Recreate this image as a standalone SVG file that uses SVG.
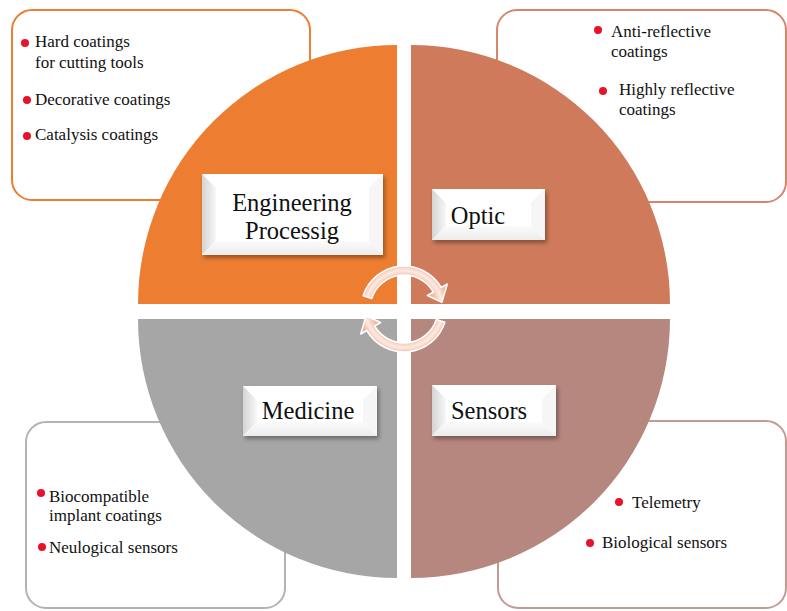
<svg xmlns="http://www.w3.org/2000/svg" width="787" height="611" viewBox="0 0 787 611">
  <defs>
    <style>
      .item { font-size: 17px; }
      .label { font-size: 24.5px; text-anchor: middle; }
      .dot { fill: #E8132B; }
      .frame { fill: #fff; stroke-width: 2; }
      .plate { fill: #fff; }
    </style>
    <filter id="shadow" x="-20%" y="-20%" width="140%" height="150%">
      <feDropShadow dx="2" dy="3" stdDeviation="2" flood-color="#000" flood-opacity="0.35"/>
    </filter>
    <linearGradient id="bevelL" x1="0" y1="0" x2="1" y2="0">
      <stop offset="0" stop-color="#d4d4d4"/>
      <stop offset="1" stop-color="#f7f7f7"/>
    </linearGradient>
    <linearGradient id="bevelB" x1="0" y1="0" x2="0" y2="1">
      <stop offset="0" stop-color="#fbfbfb"/>
      <stop offset="1" stop-color="#ececec"/>
    </linearGradient>
    <radialGradient id="ring" gradientUnits="userSpaceOnUse" cx="404" cy="309" r="50">
      <stop offset="0.62" stop-color="#F0B49C"/>
      <stop offset="0.77" stop-color="#FDEAE1"/>
      <stop offset="0.9" stop-color="#F0B49C"/>
    </radialGradient>
  </defs>

  <rect width="787" height="611" fill="#fff"/>

  <!-- outer rounded frames listing applications (behind the disc) -->
  <g id="frames">
    <rect class="frame" x="12" y="10" width="298" height="190" rx="20" stroke="#ED7D31"/>
    <rect class="frame" x="497" y="10" width="289" height="192" rx="20" stroke="#D4876A"/>
    <rect class="frame" x="26" y="422" width="259" height="186" rx="20" stroke="#B3B3B3"/>
    <rect class="frame" x="498" y="421" width="288" height="187" rx="20" stroke="#C29C94"/>
  </g>

  <g font-family="'Liberation Serif', 'DejaVu Serif', serif" fill="#111">
  <!-- Engineering quadrant -->
  <g id="engineering">
    <path d="M397,304 L138,304 A259,259 0 0 1 397,45 Z" fill="#ED7D31"/>
    <g filter="url(#shadow)">
      <rect class="plate" x="202" y="174" width="181" height="81"/>
    </g>
    <polygon points="202,174 216,188 216,241 202,255" fill="url(#bevelL)"/>
    <polygon points="202,255 216,241 369,241 383,255" fill="url(#bevelB)"/>
    <polygon points="383,174 369,188 369,241 383,255" fill="#f6f6f6"/>
    <text class="label" x="292" y="211">Engineering</text>
    <text class="label" x="292" y="239">Processig</text>
    <circle class="dot" cx="25" cy="43" r="4"/>
    <text class="item" x="35" y="47">Hard coatings</text>
    <text class="item" x="35" y="68">for cutting tools</text>
    <circle class="dot" cx="27" cy="100" r="4"/>
    <text class="item" x="35" y="105">Decorative coatings</text>
    <circle class="dot" cx="27" cy="136" r="4"/>
    <text class="item" x="35" y="140">Catalysis coatings</text>
  </g>

  <!-- Optic quadrant -->
  <g id="optic">
    <path d="M411,304 L411,45 A259,259 0 0 1 670,304 Z" fill="#CF7A5B"/>
    <g filter="url(#shadow)">
      <rect class="plate" x="432" y="189" width="113" height="51"/>
    </g>
    <polygon points="432,189 446,203 446,226 432,240" fill="url(#bevelL)"/>
    <polygon points="432,240 446,226 531,226 545,240" fill="url(#bevelB)"/>
    <polygon points="545,189 531,203 531,226 545,240" fill="#f6f6f6"/>
    <text class="label" x="478" y="224">Optic</text>
    <circle class="dot" cx="598" cy="30" r="4"/>
    <text class="item" x="611" y="37">Anti-reflective</text>
    <text class="item" x="611" y="57">coatings</text>
    <circle class="dot" cx="603" cy="91" r="4"/>
    <text class="item" x="619" y="95">Highly reflective</text>
    <text class="item" x="619" y="115">coatings</text>
  </g>

  <!-- Medicine quadrant -->
  <g id="medicine">
    <path d="M397,319 L397,578 A259,259 0 0 1 138,319 Z" fill="#A6A6A6"/>
    <g filter="url(#shadow)">
      <rect class="plate" x="243" y="386" width="134" height="50"/>
    </g>
    <polygon points="243,386 257,400 257,422 243,436" fill="url(#bevelL)"/>
    <polygon points="243,436 257,422 363,422 377,436" fill="url(#bevelB)"/>
    <polygon points="377,386 363,400 363,422 377,436" fill="#f6f6f6"/>
    <text class="label" x="308" y="419">Medicine</text>
    <circle class="dot" cx="41" cy="493" r="4"/>
    <text class="item" x="49" y="502">Biocompatible</text>
    <text class="item" x="49" y="521">implant coatings</text>
    <circle class="dot" cx="42" cy="547" r="4"/>
    <text class="item" x="49" y="553">Neulogical sensors</text>
  </g>

  <!-- Sensors quadrant -->
  <g id="sensors">
    <path d="M411,319 L670,319 A259,259 0 0 1 411,578 Z" fill="#B6877F"/>
    <g filter="url(#shadow)">
      <rect class="plate" x="432" y="385" width="124" height="51"/>
    </g>
    <polygon points="432,385 446,399 446,422 432,436" fill="url(#bevelL)"/>
    <polygon points="432,436 446,422 542,422 556,436" fill="url(#bevelB)"/>
    <polygon points="556,385 542,399 542,422 556,436" fill="#f6f6f6"/>
    <text class="label" x="489" y="419">Sensors</text>
    <circle class="dot" cx="619" cy="502" r="4"/>
    <text class="item" x="632" y="508">Telemetry</text>
    <circle class="dot" cx="590" cy="543" r="4"/>
    <text class="item" x="602" y="548">Biological sensors</text>
  </g>
  </g>

  <!-- cycle arrows -->
  <g id="connectors" fill="url(#ring)" stroke="#ffffff" stroke-width="1.5" stroke-linejoin="round">
    <path d="M363.1,295.7 A43,43 0 0 1 441.2,287.5 L447.3,284 L441.9,302.3 L427.4,295.5 L433.4,292 A34,34 0 0 0 371.7,298.5 Z"/>
    <path d="M444.9,322.3 A43,43 0 0 1 366.8,330.5 L360.7,334 L366.1,315.7 L380.6,322.5 L374.6,326 A34,34 0 0 0 436.3,319.5 Z"/>
  </g>
</svg>
